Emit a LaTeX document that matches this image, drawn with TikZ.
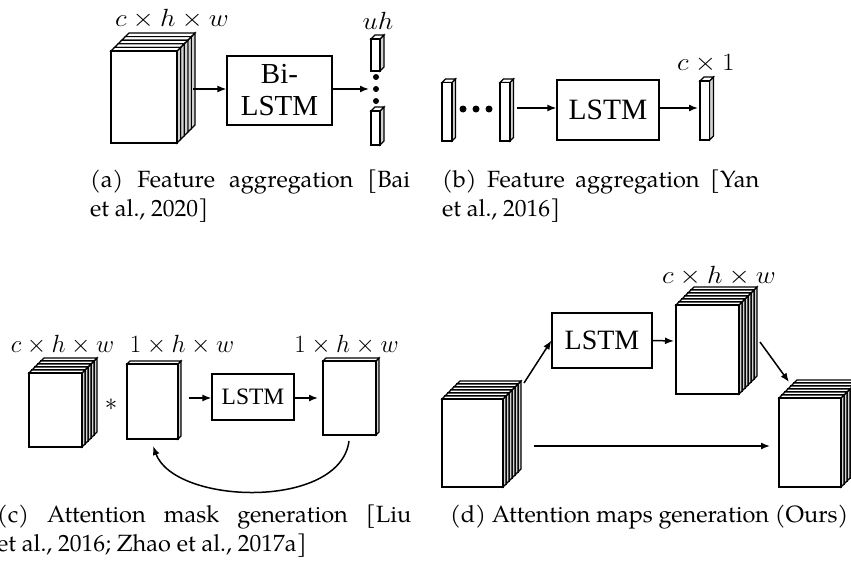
\documentclass[tikz,border=0pt]{standalone}
\usepackage{fontspec}
\setmainfont{TeX Gyre Pagella}
\newfontfamily\tnr{Liberation Serif}
\usetikzlibrary{arrows.meta}
\newcommand{\fmstack}[6]{%
  \foreach \i in {#5,...,0}{%
    \pgfmathsetmacro\fmox{#1+\i*#6}%
    \pgfmathsetmacro\fmoy{#2-\i*#6}%
    \filldraw[fm,fill=gray!35] (\fmox+#3,\fmoy) -- ++(#6,-#6) -- ++(0,#4) -- ++(-#6,#6) -- cycle;
    \filldraw[fm,fill=white] (\fmox,\fmoy) -- ++(#6,-#6) -- ++(#3,0) -- ++(-#6,#6) -- cycle;
    \filldraw[fm,fill=white] (\fmox,\fmoy) rectangle ++(#3,#4);
  }%
}
\begin{document}
\begin{tikzpicture}[x=1pt,y=-1pt,line join=miter,
  fm/.style={line width=1.1pt},
  lbl/.style={inner sep=0pt, anchor=base},
  bx/.style={draw, line width=1.2pt, inner sep=0pt, align=center, font=\tnr},
  conn/.style={line width=1.5pt, -{Latex[length=9pt,width=7pt]}},
  captxt/.style={anchor=base west, inner sep=0pt, font=\fontsize{23.5}{24}\selectfont},
  dotn/.style={circle, fill=black, inner sep=0pt, minimum size=6pt}]
\useasboundingbox (0,0) rectangle (851,562);

% ---------- (a) ----------
\fmstack{111}{51}{66}{92}{4}{3.6}
\fmstack{371}{39}{9}{32}{0}{4}
\fmstack{371}{111}{9}{34}{0}{4}
\node[dotn] (ad1) at (376,77) {};
\node[dotn] (ad2) at (376,89) {};
\node[dotn] (ad3) at (376,101) {};
\node[bx, minimum width=105pt, minimum height=69pt, font=\tnr\fontsize{29}{32}\selectfont] (bilstm) at (279.5,90.5) {Bi-\\LSTM};
\coordinate (aout) at (193,89);
\coordinate (ain) at (369,89);
\draw[conn] (aout) -- (bilstm.west |- aout);
\draw[conn] (bilstm.east |- ain) -- (ain);
\node[lbl, font=\fontsize{28}{28}\selectfont] (la) at (172,27) {\scalebox{1.1}[1]{$c\times h\times w$}};
\node[lbl, font=\fontsize{28}{28}\selectfont] (lu) at (378,29) {\scalebox{1.1}[1]{$uh$}};

% ---------- (b) ----------
\fmstack{442}{82.5}{10}{58.5}{0}{3.5}
\fmstack{500}{82.5}{10}{58.5}{0}{3.5}
\fmstack{700}{81}{9.5}{59}{0}{4}
\node[dotn, minimum size=7pt] (bd1) at (463,109) {};
\node[dotn, minimum size=7pt] (bd2) at (476,109) {};
\node[dotn, minimum size=7pt] (bd3) at (489,109) {};
\node[bx, minimum width=102pt, minimum height=60pt, font=\tnr\fontsize{29.5}{32}\selectfont] (lstmb) at (608,110) {LSTM};
\coordinate (bout) at (517,108);
\coordinate (bin) at (698,108);
\draw[conn] (bout) -- (lstmb.west |- bout);
\draw[conn] (lstmb.east |- bin) -- (bin);
\node[lbl, font=\fontsize{28}{28}\selectfont] (lb) at (706,70) {\scalebox{1.1}[1]{$c\times 1$}};

% ---------- (c) ----------
\fmstack{29}{373}{53}{74}{4}{3}
\fmstack{127}{364}{51}{75}{0}{3}
\fmstack{323}{361}{53}{74}{0}{3}
\node[inner sep=0pt, font=\fontsize{26}{26}\selectfont] (star) at (111,405) {$\ast$};
\node[bx, minimum width=82pt, minimum height=46pt, font=\tnr\fontsize{23.5}{26}\selectfont] (lstmc) at (253,397) {LSTM};
\coordinate (cout) at (189,398);
\coordinate (cin) at (318,398);
\draw[conn] (cout) -- (lstmc.west |- cout);
\draw[conn] (lstmc.east |- cin) -- (cin);
\coordinate (cfb1) at (349,441);
\coordinate (cfb2) at (153,446);
\draw[conn] (cfb1) .. controls (340,510) and (175,505) .. (cfb2);
\node[lbl, font=\fontsize{23}{23}\selectfont] (lc1) at (62.5,352) {$c\times h\times w$};
\node[lbl, font=\fontsize{23}{23}\selectfont] (lc2) at (182,352) {$1\times h\times w$};
\node[lbl, font=\fontsize{23}{23}\selectfont] (lc3) at (346.5,352) {$1\times h\times w$};

% ---------- (d) ----------
\fmstack{442}{399}{61}{88}{5}{3}
\fmstack{676}{305}{63}{89}{5}{3}
\fmstack{779}{398}{62}{89}{5}{3}
\node[bx, minimum width=100pt, minimum height=55pt, font=\tnr\fontsize{28}{30}\selectfont] (lstmd) at (602,340.5) {LSTM};
\coordinate (d1) at (524,383);
\coordinate (d2) at (674,341);
\coordinate (d3) at (760,342);
\coordinate (d4) at (789,382);
\coordinate (d5) at (534,446);
\coordinate (d6) at (770,446);
\draw[conn] (d1) -- (lstmd.west);
\draw[conn] (lstmd.east) -- (d2);
\draw[conn] (d3) -- (d4);
\draw[conn] (d5) -- (d6);
\node[lbl, font=\fontsize{27.5}{27.5}\selectfont] (ld) at (719,283) {\scalebox{1.1}[1]{$c\times h\times w$}};

% ---------- captions ----------
\node[captxt] (capa1) at (90,187) {\makebox[320pt][s]{(a) Feature aggregation [Bai}};
\node[captxt] (capa2) at (90,216) {et al., 2020]};
\node[captxt] (capb1) at (442,187) {\makebox[317pt][s]{(b) Feature aggregation [Yan}};
\node[captxt] (capb2) at (442,216) {et al., 2016]};
\node[captxt] (capc1) at (-3,522) {\makebox[414pt][s]{(c) Attention mask generation [Liu}};
\node[captxt] (capc2) at (-3,551) {et al., 2016; Zhao et al., 2017a]};
\node[captxt] (capd) at (450,522) {(d) Attention maps generation (Ours)};
\end{tikzpicture}
\end{document}
